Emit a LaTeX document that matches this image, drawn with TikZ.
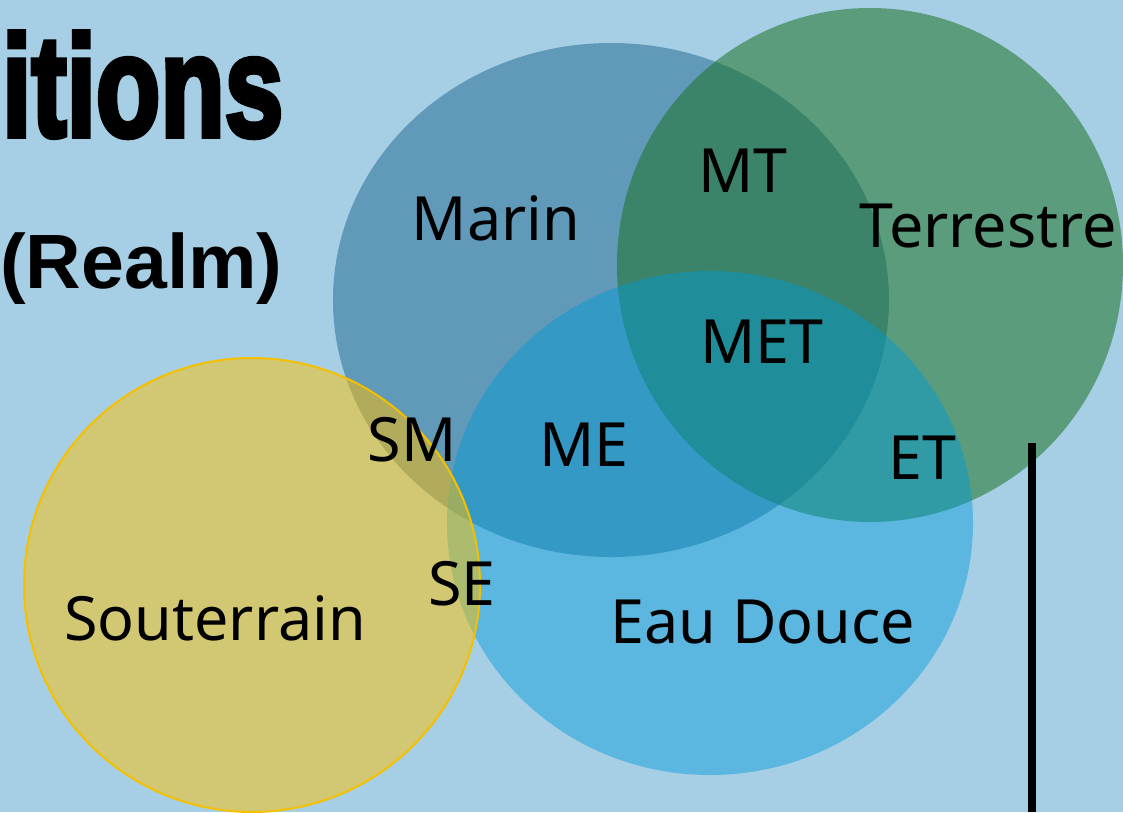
\documentclass[tikz,border=0pt]{standalone}
\usepackage{fontspec}
\setmainfont{Noto Sans}
\newfontfamily\headfont{Liberation Sans}
\newfontfamily\heavyfont{Liberation Sans Bold}[FakeBold=4]
\definecolor{sky}{RGB}{166,207,230}
\definecolor{marin}{RGB}{35,105,145}
\definecolor{terre}{RGB}{30,115,40}
\definecolor{douce}{RGB}{0,155,215}
\definecolor{sous}{RGB}{255,192,0}
\definecolor{gold}{RGB}{245,192,0}
\tikzset{
  lbl/.style={anchor=base, inner sep=0pt, font=\fontsize{61}{63}\selectfont},
}
\begin{document}
\begin{tikzpicture}[x=1pt, y=-1pt]
  % page area and backdrop
  \useasboundingbox (0,0) rectangle (1123,812);
  \fill[sky] (0,0) rectangle (1123,812);
  \begin{scope}
    \clip (0,0) rectangle (1123,812);
    % the four realms
    \fill[marin, fill opacity=0.52] (611,300) ellipse [x radius=278, y radius=257];
    \fill[terre, fill opacity=0.55] (870,265) ellipse [x radius=253, y radius=257];
    \fill[douce, fill opacity=0.45] (710,523) ellipse [x radius=263, y radius=252];
    \fill[sous, fill opacity=0.5] (252,585) ellipse [x radius=228, y radius=227];
    \draw[gold, line width=2pt] (252,585) ellipse [x radius=228, y radius=227];
    % heading fragments
    \node[anchor=base west, inner sep=0pt] (title) at (2,136)
      {\resizebox{281pt}{104pt}{\heavyfont itions}};
    \node[anchor=base west, inner sep=0pt] (realm) at (0,288)
      {\headfont\bfseries\fontsize{77}{80}\selectfont (Realm)};
  \end{scope}
  % region labels
  \node[lbl] (marin) at (496,240) {Marin};
  \node[lbl] (mt) at (743,192) {MT};
  \node[lbl] (terrestre) at (988,247) {Terrestre};
  \node[lbl] (met) at (762,363) {MET};
  \node[lbl] (sm) at (412,461) {SM};
  \node[lbl] (me) at (584,466) {ME};
  \node[lbl] (et) at (922,479) {ET};
  \node[lbl] (se) at (462,605) {SE};
  \node[lbl] (souterrain) at (215,640) {Souterrain};
  \node[lbl] (eaudouce) at (763,643) {Eau Douce};
  % vertical rule
  \coordinate (ruletop) at (1032,443);
  \coordinate (rulebot) at (1032,812);
  \draw[line width=8pt] (ruletop) -- (rulebot);
\end{tikzpicture}
\end{document}
